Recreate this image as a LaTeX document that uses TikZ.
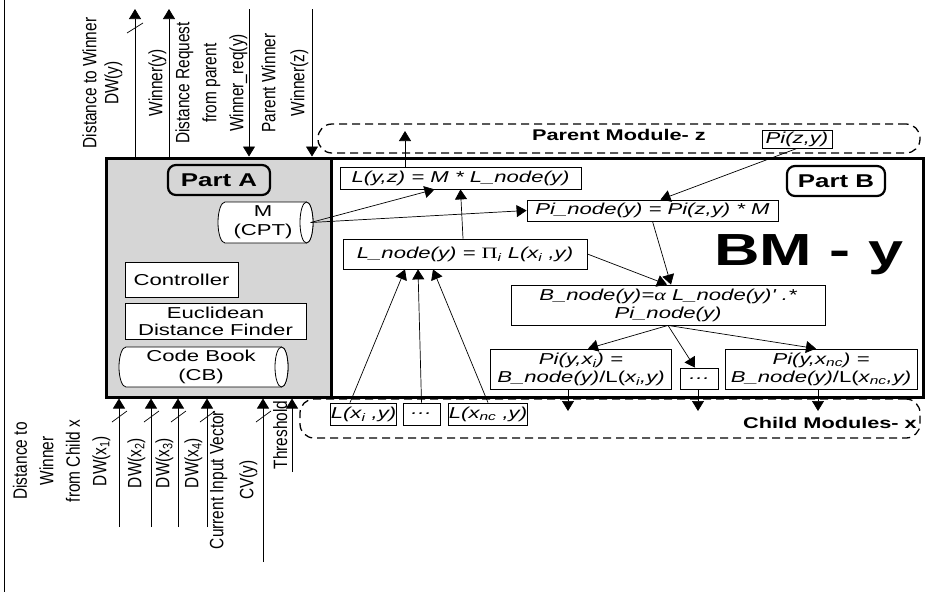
\documentclass[tikz,border=0pt]{standalone}
\usepackage{fontspec}
\setmainfont{Liberation Sans}
\newfontfamily\widefont{Liberation Sans}[FakeStretch=1.4]
\newfontfamily\tallfont{Liberation Sans}[FakeStretch=0.8]
\newfontfamily\greekfont{Liberation Serif}[FakeStretch=1.4]
\usetikzlibrary{arrows.meta}

\tikzset{
  arr/.style={-{Triangle[length=10pt,width=12pt]}, line width=0.7pt},
  eqbox/.style={draw, line width=0.8pt, fill=white, inner sep=0pt, align=center,
    font=\widefont\itshape\fontsize{15.8}{18}\selectfont},
  txtbox/.style={eqbox, font=\widefont\fontsize{15.8}{17}\selectfont},
  store/.style={inner sep=0pt, align=center, font=\widefont\fontsize{15.8}{19}\selectfont},
  drum/.style={draw, line width=0.8pt, fill=white},
  partbox/.style={draw, line width=3pt, inner sep=0pt},
  parttag/.style={draw, line width=2.2pt, rounded corners=8pt, inner sep=0pt, minimum height=30,
    font=\widefont\bfseries\fontsize{18.5}{20}\selectfont},
  module/.style={draw, dash pattern=on 8pt off 5pt, line width=1.3pt, rounded corners=14pt, inner sep=0pt},
  modlabel/.style={inner sep=0pt, font=\widefont\bfseries\fontsize{15.5}{18}\selectfont},
  sig/.style={rotate=90, anchor=south, align=center, inner sep=0.5pt,
    font=\tallfont\fontsize{19.3}{#1}\selectfont},
}

\begin{document}
\begin{tikzpicture}[x=1pt, y=-1pt]
\useasboundingbox (0,0) rectangle (949,592);
\draw[line width=0.8pt] (4,0) -- (4,592);

% ---- parent and child modules (dashed) ----
\node[module, minimum width=602, minimum height=29] (parent) at (619,138.5) {};
\node[modlabel] (parentlbl) at (619,135) {Parent Module- z};
\node[module, minimum width=620, minimum height=39] (child) at (610,418.5) {};
\node[modlabel] (childlbl) at (830,423) {Child Modules- x};

% ---- the two parts of module y ----
\node[partbox, minimum width=592, minimum height=239] (partB) at (627,277.5) {};
\node[partbox, fill=black!16, minimum width=225, minimum height=239] (partA) at (218.5,277.5) {};
\node[parttag, minimum width=102] (tagA) at (219,180) {Part A};
\node[parttag, fill=white, minimum width=98] (tagB) at (836,181) {Part B};
\node[inner sep=0pt, font=\widefont\bfseries\fontsize{45}{50}\selectfont] (bmy) at (809,255) {BM - y};

% ---- part A ----
% storage drums: body, then the full end cap on the right
\draw[drum] (225,202) -- (306.5,202) arc[start angle=90, end angle=-90, x radius=6.5pt, y radius=20.5pt]
  -- (225,243) arc[start angle=270, end angle=90, x radius=7pt, y radius=20.5pt] -- cycle;
\draw[drum] (306.5,222.5) ellipse[x radius=6.5pt, y radius=20.5pt];
\draw[drum] (126,347) -- (281.5,347) arc[start angle=90, end angle=-90, x radius=6.5pt, y radius=20pt]
  -- (126,387) arc[start angle=270, end angle=90, x radius=7pt, y radius=20pt] -- cycle;
\draw[drum] (281.5,367) ellipse[x radius=6.5pt, y radius=20pt];
\node[store, minimum width=95, minimum height=41] (mcpt) at (263,222.5) {M\\(CPT)};
\node[store, minimum width=169, minimum height=40] (cb) at (201,367) {Code Book\\(CB)};
\node[txtbox, minimum width=113, minimum height=35] (ctrl) at (181.5,279.5) {Controller};
\node[txtbox, minimum width=181, minimum height=36] (edf) at (215.5,321) {Euclidean\\Distance Finder};

% ---- part B ----
\node[eqbox, minimum width=70, minimum height=18] (pzy) at (797,139) {Pi(z,y)};
\node[eqbox, minimum width=241, minimum height=22] (lyz) at (460.5,178) {L(y,z) = M * L\_node(y)};
\node[eqbox, minimum width=251, minimum height=21] (pinode) at (652.5,210.5) {Pi\_node(y) = Pi(z,y) * M};
\node[eqbox, minimum width=244, minimum height=30] (lnode) at (465,254)
  {L\_node(y) = {\greekfont\upshape Π}\textsubscript{i} L(x\textsubscript{i} ,y)};
\node[eqbox, minimum width=314, minimum height=40] (bnode) at (668,305)
  {B\_node(y)={\greekfont α} L\_node(y)' .*\\Pi\_node(y)};
\node[eqbox, minimum width=181, minimum height=40] (pyxi) at (581,369)
  {Pi(y,x\textsubscript{i}) =\\B\_node(y){\upshape/L(}x\textsubscript{i},y)};
\node[eqbox, minimum width=38, minimum height=21] (pdots) at (699.5,378.5) {\dots};
\node[eqbox, minimum width=192, minimum height=40] (pyxnc) at (821,369)
  {Pi(y,x\textsubscript{nc}) =\\B\_node(y){\upshape/L(}x\textsubscript{nc},y)};

% ---- child messages ----
\node[eqbox, minimum width=53, minimum height=22] (lxi) at (363.5,414) {L(x\textsubscript{i} ,y)};
\node[eqbox, minimum width=37, minimum height=22] (ldots) at (421.5,414) {\dots};
\node[eqbox, minimum width=78, minimum height=22] (lxnc) at (488,414) {L(x\textsubscript{nc} ,y)};

% ---- connectors inside part B ----
\draw[arr] ([xshift=-13.5]lxi.north) -- ([xshift=-60]lnode.south);
\draw[arr] (ldots.north) -- ([xshift=-47]lnode.south);
\draw[arr] (lxnc.north) -- ([xshift=-32]lnode.south);
\draw[arr] ([xshift=-2]lnode.north) -- (lyz.south);
\draw[arr] (mcpt.east) -- ([xshift=-26]lyz.south);
\draw[arr] (mcpt.east) -- (pinode.west);
\draw[arr] (pzy.south) -- ([xshift=8]pinode.north);
\coordinate (lyzout) at (405,131);
\draw[arr] ([xshift=-55.5]lyz.north) -- (lyzout);
\draw[arr] (lnode.east) -- ([xshift=-1]bnode.north);
\draw[arr] (pinode.south) -- ([xshift=3]bnode.north);
\draw[arr] (bnode.south) -- ([xshift=7]pyxi.north);
\draw[arr] (bnode.south) -- ([xshift=-4.5]pdots.north);
\draw[arr] (bnode.south) -- ([xshift=-5]pyxnc.north);
\coordinate (outi) at (568,411);
\coordinate (outdots) at (698,411);
\coordinate (outnc) at (818,411);
\draw[arr] (pyxi.south -| outi) -- (outi);
\draw[arr] (pdots.south -| outdots) -- (outdots);
\draw[arr] (pyxnc.south -| outnc) -- (outnc);

% ---- signals on top of part A ----
\coordinate (dwyend) at (135,9);
\coordinate (winyend) at (169,9);
\coordinate (reqstart) at (249,9);
\coordinate (winzstart) at (312,9);
\draw[arr] (partA.north -| dwyend) -- (dwyend);
\draw[arr] (partA.north -| winyend) -- (winyend);
\draw[arr] (reqstart) -- (partA.north -| reqstart);
\draw[arr] (winzstart) -- (partA.north -| winzstart);
\draw[line width=0.7pt] (127,33) -- (143,23);
\node[sig=22] (sigdwy) at (123,83) {Distance to Winner\\DW(y)};
\node[sig=22] (sigwiny) at (167,83) {Winner(y)};
\node[sig=27] (sigreq) at (248,83) {Distance Request\\from parent\\Winner\_req(y)};
\node[sig=29] (sigwinz) at (309,83) {Parent Winner\\Winner(z)};

% ---- signals below part A ----
\foreach \nm/\x/\y in {dwa/119/527, dwb/151/527, dwc/178/527, dwd/207/527, cvy/263/562, thr/292/472}{
  \coordinate (\nm) at (\x,\y);
  \draw[arr] (\nm) -- (\nm |- partA.south);
}
\foreach \x in {119,151,178,207,263}{\draw[line width=0.7pt] (\x-7,422) -- (\x+8,411);}
\node[sig=26.5] (sigdwa) at (111,461) {Distance to\\Winner\\from Child x\\DW(x\textsubscript{1})};
\node[sig=22] (sigdwb) at (146,463) {DW(x\textsubscript{2})};
\node[sig=22] (sigdwc) at (174,463) {DW(x\textsubscript{3})};
\node[sig=22] (sigdwd) at (203,463) {DW(x\textsubscript{4})};
\node[sig=30] (sigcv) at (258,480) {Current Input Vector\\CV(y)};
\node[sig=22] (sigthr) at (288,435) {Threshold};
\end{tikzpicture}
\end{document}
